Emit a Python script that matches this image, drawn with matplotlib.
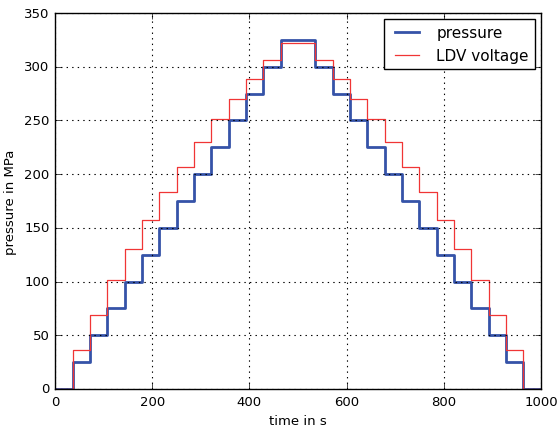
import matplotlib
matplotlib.use("Agg")
import matplotlib.pyplot as plt

# step start times in s (last entry closes the final step)
time_s = [0, 36, 71, 107, 143, 179, 214, 250, 286, 321, 357, 393, 429, 464,
          536, 571, 607, 643, 679, 714, 750, 786, 821, 857, 893, 929, 964, 1000]

pressure = [0, 25, 50, 75, 100, 125, 150, 175, 200, 225, 250, 275, 300, 325,
            300, 275, 250, 225, 200, 175, 150, 125, 100, 75, 50, 25, 0]

ldv_voltage = [0, 36, 69, 101, 130, 157, 183, 207, 230, 251, 270, 289, 306, 322,
               306, 289, 270, 251, 230, 207, 183, 157, 130, 101, 69, 36, 0]

x_ticks = [0, 200, 400, 600, 800, 1000]
y_ticks = [0, 50, 100, 150, 200, 250, 300, 350]


def main():
    plt.style.use("classic")
    plt.rcParams["font.family"] = "DejaVu Sans"
    plt.rcParams["figure.facecolor"] = "white"

    fig = plt.figure(figsize=(5.58, 4.27), dpi=100)
    ax = fig.add_axes([0.0986, 0.0867, 0.8709, 0.8805])

    # repeat the last value so the final step is drawn to the end
    p = pressure + [pressure[-1]]
    v = ldv_voltage + [ldv_voltage[-1]]
    ax.step(time_s, p, where="post", color="#3553a8", lw=2, label="pressure")
    ax.step(time_s, v, where="post", color="#f03535", lw=0.9, label="LDV voltage")

    ax.set_xlim(0, 1000)
    ax.set_ylim(0, 350)
    ax.set_xticks(x_ticks)
    ax.set_yticks(y_ticks)
    ax.tick_params(labelsize=9.5, direction="in", top=True, right=True)
    ax.grid(True, color="black", linestyle=":", linewidth=0.8)
    ax.set_xlabel("time in s", fontsize=9.5)
    ax.set_ylabel("pressure in MPa", fontsize=9.5)

    leg = ax.legend(loc="upper right", fontsize=11, fancybox=False,
                    handlelength=2.2, borderaxespad=0.4)
    leg.get_frame().set_edgecolor("black")

    fig.savefig("out.png", dpi=100)


if __name__ == "__main__":
    main()
